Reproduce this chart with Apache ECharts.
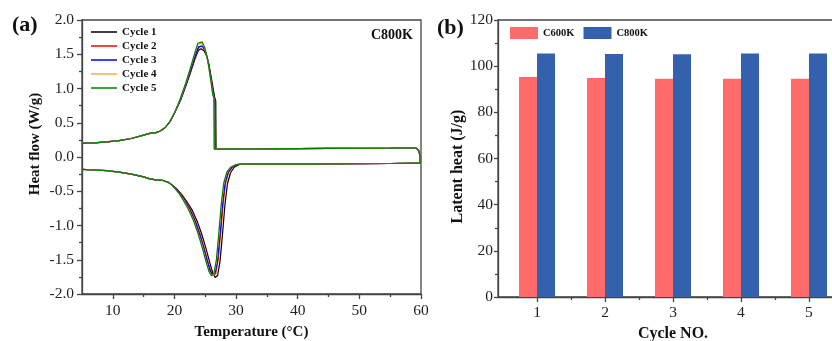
<!DOCTYPE html>
<html>
<head>
<meta charset="utf-8">
<script src="https://cdn.jsdelivr.net/npm/echarts@6/dist/echarts.min.js"></script>
<style>
  html, body { margin: 0; padding: 0; background: #fff; }
  #chart { width: 832px; height: 341px; }
</style>
</head>
<body>
<div id="chart"></div>
<script>
// ---- panel (a): DSC curves, C800K ----
const cycleNames = ['Cycle 1', 'Cycle 2', 'Cycle 3', 'Cycle 4', 'Cycle 5'];
const cycleColors = ['#000000', '#ff0000', '#0000ff', '#ffa64d', '#008000'];

// heating branch, shared part (T ascending)
const lowerStart = [[5,-0.18],[7,-0.19],[9,-0.2],[11,-0.22],[13,-0.25],[15,-0.29],[16,-0.32],[17,-0.335],[18,-0.34],[19,-0.37]];
// heating dips, one per cycle
const dip1 = [[19.5,-0.40],[20.3,-0.46],[21.2,-0.55],[22.0,-0.65],[22.9,-0.78],[23.7,-0.94],[24.4,-1.12],[25.1,-1.33],[25.7,-1.53],[26.2,-1.69],[26.6,-1.76],[27.0,-1.73],[27.4,-1.52],[27.8,-1.12],[28.2,-0.69],[28.6,-0.39],[29.1,-0.23],[29.7,-0.15],[30.5,-0.11],[31.2,-0.10]];
const dip2 = [[19.5,-0.40],[20.2,-0.46],[21.0,-0.54],[21.8,-0.64],[22.6,-0.77],[23.4,-0.93],[24.1,-1.11],[24.8,-1.32],[25.4,-1.52],[25.9,-1.67],[26.3,-1.73],[26.7,-1.70],[27.1,-1.50],[27.5,-1.11],[27.9,-0.68],[28.3,-0.38],[28.8,-0.22],[29.4,-0.15],[30.3,-0.11],[31.0,-0.10]];
const dip3 = [[19.5,-0.40],[20.2,-0.46],[20.9,-0.54],[21.7,-0.64],[22.5,-0.77],[23.3,-0.93],[24.0,-1.11],[24.7,-1.32],[25.3,-1.52],[25.8,-1.66],[26.2,-1.72],[26.6,-1.69],[27.0,-1.50],[27.4,-1.11],[27.8,-0.68],[28.2,-0.38],[28.7,-0.22],[29.3,-0.15],[30.2,-0.11],[31.0,-0.10]];
const dip4 = [[19.5,-0.40],[20.1,-0.46],[20.8,-0.54],[21.5,-0.63],[22.3,-0.76],[23.1,-0.92],[23.8,-1.10],[24.5,-1.30],[25.1,-1.51],[25.6,-1.67],[26.0,-1.74],[26.4,-1.71],[26.8,-1.53],[27.2,-1.15],[27.6,-0.72],[28.0,-0.40],[28.5,-0.23],[29.1,-0.15],[30.0,-0.11],[31.0,-0.10]];
const dip5 = [[19.5,-0.40],[20.1,-0.46],[20.8,-0.54],[21.5,-0.64],[22.3,-0.77],[23.1,-0.93],[23.8,-1.11],[24.5,-1.32],[25.1,-1.52],[25.6,-1.67],[26.0,-1.73],[26.4,-1.70],[26.8,-1.50],[27.2,-1.11],[27.6,-0.68],[28.0,-0.38],[28.5,-0.22],[29.1,-0.15],[30.0,-0.11],[31.0,-0.10]];
// shared: heating plateau, turn at 60 °C, cooling plateau (T back down)
const lowerEnd = [[35,-0.10],[45,-0.10],[55,-0.095],[59.5,-0.09],[59.85,-0.09]];
const upperFlat = [[59.85,-0.05],[59.8,0.03],[59.65,0.09],[59.3,0.125],[58.5,0.135],[55,0.13],[45,0.125],[35,0.12],[28,0.115]];
// cooling peaks, one per cycle (T descending)
const peak1 = [[26.75,0.115],[26.7,0.82],[26.5,0.88],[26.2,1.04],[25.9,1.20],[25.6,1.35],[25.2,1.48],[24.8,1.55],[24.3,1.58],[23.9,1.56],[23.4,1.45],[22.7,1.26],[21.9,1.05],[21.0,0.83],[20.1,0.66],[19.3,0.52],[18.5,0.43],[17.7,0.38],[17,0.355]];
const peak2 = [[26.6,0.115],[26.55,0.84],[26.35,0.90],[26.05,1.07],[25.75,1.24],[25.45,1.40],[25.05,1.53],[24.65,1.60],[24.3,1.62],[23.9,1.59],[23.4,1.48],[22.7,1.28],[21.9,1.06],[21.0,0.84],[20.1,0.66],[19.3,0.52],[18.5,0.43],[17.7,0.38],[17,0.355]];
const peak3 = [[26.55,0.115],[26.5,0.84],[26.3,0.90],[26.0,1.08],[25.7,1.26],[25.4,1.42],[25.0,1.55],[24.6,1.62],[24.3,1.64],[23.9,1.61],[23.4,1.49],[22.7,1.29],[21.9,1.07],[21.0,0.84],[20.1,0.66],[19.3,0.52],[18.5,0.43],[17.7,0.38],[17,0.355]];
const peak4 = [[26.45,0.115],[26.4,0.86],[26.2,0.92],[25.9,1.11],[25.6,1.29],[25.3,1.45],[24.9,1.59],[24.5,1.66],[24.2,1.68],[23.8,1.65],[23.3,1.51],[22.6,1.30],[21.8,1.07],[20.9,0.84],[20.1,0.66],[19.3,0.52],[18.5,0.43],[17.7,0.38],[17,0.355]];
const peak5 = [[26.45,0.115],[26.4,0.86],[26.2,0.92],[25.9,1.12],[25.6,1.30],[25.3,1.46],[24.9,1.60],[24.5,1.68],[24.2,1.70],[23.8,1.66],[23.3,1.52],[22.6,1.30],[21.8,1.07],[20.9,0.84],[20.1,0.66],[19.3,0.52],[18.5,0.43],[17.7,0.38],[17,0.355]];
const upperEnd = [[16,0.345],[15,0.32],[13,0.27],[11,0.24],[9,0.22],[7,0.205],[5,0.2]];

const tempTicks = [10, 20, 30, 40, 50, 60];
const tempMinorTicks = [15, 25, 35, 45, 55];

// ---- panel (b): latent heat ----
const cycleNo = [1, 2, 3, 4, 5];
const cycleMinorTicks = [1.5, 2.5, 3.5, 4.5, 5.5];
const c600k = [95.3, 94.9, 94.6, 94.5, 94.6];
const c800k = [105.5, 105.3, 105.2, 105.5, 105.5];

const dips = [dip1, dip2, dip3, dip4, dip5];
const peaks = [peak1, peak2, peak3, peak4, peak5];

const serif = '"Liberation Serif", "Times New Roman", serif';
const axisColor = '#444';
const lineStyleAxis = { color: axisColor, width: 1.3 };
const tickFont = { fontSize: 15.5, color: '#222', fontFamily: serif };

const chart = echarts.init(document.getElementById('chart'));

const dscSeries = cycleNames.map((name, i) => ({
  name: name,
  type: 'line',
  xAxisIndex: 0,
  yAxisIndex: 0,
  symbol: 'none',
  color: cycleColors[i],
  lineStyle: { width: 1.2, color: cycleColors[i] },
  data: [].concat(lowerStart, dips[i], lowerEnd, upperFlat, peaks[i], upperEnd)
}));

const option = {
  animation: false,
  textStyle: { fontFamily: serif },
  grid: [
    { left: 82, top: 20, right: 411, bottom: 47, outerBoundsMode: 'none',
      show: true, borderColor: axisColor, borderWidth: 1.3 },
    { left: 498, top: 20, width: 350, bottom: 44, outerBoundsMode: 'none',
      show: true, borderColor: axisColor, borderWidth: 1.3 }
  ],
  legend: [
    {
      data: cycleNames,
      orient: 'vertical',
      left: 86, top: 21.5,
      icon: 'rect',
      itemWidth: 26, itemHeight: 1.5, itemGap: 3,
      textStyle: { fontFamily: serif, fontWeight: 'bold', fontSize: 11, color: '#111' }
    },
    {
      data: ['C600K', 'C800K'],
      left: 505, top: 22,
      icon: 'rect',
      itemWidth: 28, itemHeight: 12, itemGap: 9,
      textStyle: { fontFamily: serif, fontWeight: 'bold', fontSize: 10.5, color: '#111' }
    }
  ],
  xAxis: [
    {
      gridIndex: 0, type: 'value', min: 5, max: 60, position: 'bottom',
      axisLine: { show: true, onZero: false, lineStyle: lineStyleAxis },
      axisTick: { show: true, customValues: tempTicks, length: 5, lineStyle: lineStyleAxis },
      axisLabel: Object.assign({ customValues: tempTicks, margin: 9 }, tickFont),
      splitLine: { show: false },
      name: 'Temperature (°C)', nameLocation: 'middle', nameGap: 31,
      nameTextStyle: { fontFamily: serif, fontWeight: 'bold', fontSize: 15, color: '#111' }
    },
    {
      gridIndex: 0, type: 'value', min: 5, max: 60, position: 'bottom',
      axisLine: { show: false, onZero: false },
      axisTick: { show: true, customValues: tempMinorTicks, length: 3, lineStyle: lineStyleAxis },
      axisLabel: { show: false },
      splitLine: { show: false }
    },
    {
      gridIndex: 1, type: 'value', min: 0.426, max: 5.574, position: 'bottom',
      axisLine: { show: true, onZero: false, lineStyle: lineStyleAxis },
      axisTick: { show: true, customValues: cycleNo, length: 5, lineStyle: lineStyleAxis },
      axisLabel: Object.assign({ customValues: cycleNo, margin: 8 }, tickFont),
      splitLine: { show: false },
      name: 'Cycle NO.', nameLocation: 'middle', nameGap: 29,
      nameTextStyle: { fontFamily: serif, fontWeight: 'bold', fontSize: 16, color: '#111' }
    },
    {
      gridIndex: 1, type: 'value', min: 0.426, max: 5.574, position: 'bottom',
      axisLine: { show: false, onZero: false },
      axisTick: { show: true, customValues: cycleMinorTicks, length: 3, lineStyle: lineStyleAxis },
      axisLabel: { show: false },
      splitLine: { show: false }
    }
  ],
  yAxis: [
    {
      gridIndex: 0, type: 'value', min: -2, max: 2, interval: 0.5,
      axisLine: { show: true, onZero: false, lineStyle: lineStyleAxis },
      axisTick: { show: true, length: 5, lineStyle: lineStyleAxis },
      minorTick: { show: true, splitNumber: 2, length: 3, lineStyle: lineStyleAxis },
      axisLabel: Object.assign({ margin: 8, formatter: v => v.toFixed(1) }, tickFont),
      splitLine: { show: false },
      name: 'Heat flow (W/g)', nameLocation: 'middle', nameGap: 39,
      nameTextStyle: { fontFamily: serif, fontWeight: 'bold', fontSize: 15, color: '#111', padding: [0, 0, 0, 26] }
    },
    {
      gridIndex: 1, type: 'value', min: 0, max: 120, interval: 20,
      axisLine: { show: true, onZero: false, lineStyle: lineStyleAxis },
      axisTick: { show: true, length: 4, lineStyle: lineStyleAxis },
      minorTick: { show: true, splitNumber: 2, length: 3, lineStyle: lineStyleAxis },
      axisLabel: Object.assign({ margin: 5 }, tickFont),
      splitLine: { show: false },
      name: 'Latent heat (J/g)', nameLocation: 'middle', nameGap: 32,
      nameTextStyle: { fontFamily: serif, fontWeight: 'bold', fontSize: 16, color: '#111', padding: [0, 16, 0, 0] }
    }
  ],
  series: dscSeries.concat([
    {
      name: 'C600K', type: 'bar', xAxisIndex: 2, yAxisIndex: 1,
      barWidth: 18, barGap: '0%',
      itemStyle: { color: '#ff6b6b' },
      data: cycleNo.map((c, i) => [c, c600k[i]])
    },
    {
      name: 'C800K', type: 'bar', xAxisIndex: 2, yAxisIndex: 1,
      barWidth: 18, barGap: '0%',
      itemStyle: { color: '#3461ad' },
      data: cycleNo.map((c, i) => [c, c800k[i]])
    }
  ]),
  graphic: [
    { type: 'text', left: 12, top: 14, style: { text: '(a)', font: 'bold 22px ' + serif, fill: '#111' } },
    { type: 'text', left: 437, top: 17, style: { text: '(b)', font: 'bold 22px ' + serif, fill: '#111' } },
    { type: 'text', x: 413, y: 35, style: { text: 'C800K', font: 'bold 14px ' + serif, fill: '#111', align: 'right', verticalAlign: 'middle' } }
  ]
};

chart.setOption(option);
</script>
</body>
</html>
